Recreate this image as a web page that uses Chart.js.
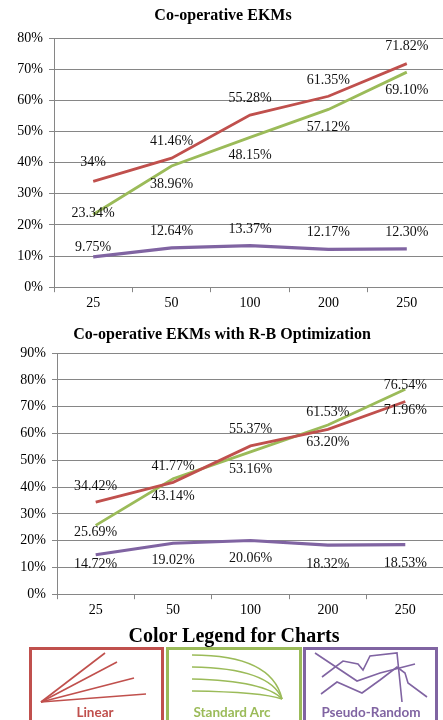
<!DOCTYPE html>
<html>
<head>
<meta charset="utf-8">
<script src="https://cdn.jsdelivr.net/npm/chart.js@4.4.1/dist/chart.umd.min.js"></script>
<style>
  html, body { margin: 0; padding: 0; background: #fff; overflow: hidden; width: 443px; height: 720px; }
  .wrap { position: absolute; left: 0; }
  #legend { position: absolute; left: 0; top: 620px; }
</style>
</head>
<body>
<div class="wrap" style="top:0"><canvas id="chartTop" width="447" height="318"></canvas></div>
<div class="wrap" style="top:318px"><canvas id="chartBottom" width="444" height="308"></canvas></div>
<svg id="legend" width="443" height="100" xmlns="http://www.w3.org/2000/svg">
  <text x="234" y="22" text-anchor="middle" font-family="Liberation Serif" font-weight="bold" font-size="20">Color Legend for Charts</text>
  <!-- Linear -->
  <rect x="30.5" y="28.5" width="132" height="80" fill="none" stroke="#C0504D" stroke-width="3"/>
  <g stroke="#C0504D" stroke-width="1.6" fill="none">
    <line x1="41" y1="82" x2="105" y2="33"/>
    <line x1="41" y1="82" x2="117" y2="42"/>
    <line x1="41" y1="82" x2="134" y2="58"/>
    <line x1="41" y1="82" x2="146" y2="74"/>
  </g>
  <text x="95" y="97" text-anchor="middle" font-family="Lato" font-weight="bold" font-size="13.5" fill="#C0504D">Linear</text>
  <!-- Standard Arc -->
  <rect x="167.5" y="28.5" width="133" height="80" fill="none" stroke="#9BBB59" stroke-width="3"/>
  <g stroke="#9BBB59" stroke-width="1.6" fill="none">
    <path d="M192 35 Q272 35 282 79"/>
    <path d="M192 47 Q270 48 282 79"/>
    <path d="M192 59 Q266 61 282 79"/>
    <path d="M192 71 Q262 72 282 79"/>
  </g>
  <text x="232" y="97" text-anchor="middle" font-family="Lato" font-weight="bold" font-size="13.5" fill="#9BBB59">Standard Arc</text>
  <!-- Pseudo-Random -->
  <rect x="304.5" y="28.5" width="132" height="80" fill="none" stroke="#8064A2" stroke-width="3"/>
  <g stroke="#8064A2" stroke-width="1.6" fill="none">
    <polyline points="315,33 357,61 380,53 415,44"/>
    <polyline points="322,57 343,41 358,44 363,50 370,36 397,33 402,82"/>
    <polyline points="321,74 337,62 362,73 380,60 397,47 405,53 408,63 427,77"/>
  </g>
  <text x="371" y="97" text-anchor="middle" font-family="Lato" font-weight="bold" font-size="13.5" fill="#8064A2">Pseudo-Random</text>
</svg>
<script>
// Key counts on the x axis (same for both charts)
const categories = ['25', '50', '100', '200', '250'];

// Co-operative EKMs (%)
const topLinear = [34, 41.46, 55.28, 61.35, 71.82];
const topArc = [23.34, 38.96, 48.15, 57.12, 69.10];
const topRandom = [9.75, 12.64, 13.37, 12.17, 12.30];

// Co-operative EKMs with R-B Optimization (%)
const botLinear = [34.42, 41.77, 55.37, 61.53, 71.96];
const botArc = [25.69, 43.14, 53.16, 63.20, 76.54];
const botRandom = [14.72, 19.02, 20.06, 18.32, 18.53];

// vertical shift (px) of each value label relative to its point
const topLabelShift = [[-19, -17, -17, -16, -17], [-1, 18, 18, 18, 18], [-10, -17, -16, -17, -17]];
const botLabelShift = [[-16, -16, -17, -17, 9], [7, 18, 17, 17, -4], [10, 17, 18, 19, 19]];

const RED = '#C0504D';
const GREEN = '#9BBB59';
const PURPLE = '#8064A2';
const GRID = '#868686';
const SERIF = "'Liberation Serif', 'Times New Roman', serif";

const fmtLabel = (v) => (Number.isInteger(v) ? `${v}%` : `${v.toFixed(2)}%`);

const valueLabels = {
  id: 'valueLabels',
  afterDatasetsDraw(chart, args, opts) {
    const { ctx } = chart;
    ctx.save();
    ctx.font = `14px ${SERIF}`;
    ctx.fillStyle = '#111';
    ctx.textAlign = 'center';
    ctx.textBaseline = 'middle';
    chart.data.datasets.forEach((ds, di) => {
      const meta = chart.getDatasetMeta(di);
      meta.data.forEach((pt, i) => {
        const dy = opts.shift[di][i] || 0;
        ctx.fillText(fmtLabel(ds.data[i]), pt.x, pt.y + dy);
      });
    });
    ctx.restore();
  },
};

function makeChart(id, title, series, yMax, axisWidth, shift, layoutPad, titlePad) {
  const colors = [RED, GREEN, PURPLE];
  return new Chart(document.getElementById(id), {
    type: 'line',
    data: {
      labels: categories,
      datasets: series.map((data, i) => ({
        data,
        borderColor: colors[i],
        borderWidth: i === 2 ? 3.2 : 2.8,
        pointRadius: 0,
        tension: 0,
        fill: false,
      })),
    },
    options: {
      responsive: false,
      animation: false,
      devicePixelRatio: 1,
      layout: { padding: layoutPad },
      plugins: {
        legend: { display: false },
        tooltip: { enabled: false },
        title: {
          display: true,
          text: title,
          color: '#000',
          font: { family: SERIF, size: 16, weight: 'bold' },
          padding: titlePad,
        },
        valueLabels: { shift },
      },
      scales: {
        x: {
          offset: true,
          grid: { offset: true, drawOnChartArea: false, color: GRID, tickLength: 5 },
          border: { color: GRID, width: 1 },
          ticks: { color: '#000', padding: 3, font: { family: SERIF, size: 14 } },
        },
        y: {
          min: 0,
          max: yMax,
          afterFit: (scale) => { scale.width = axisWidth; },
          grid: { color: GRID, tickLength: 5 },
          border: { color: GRID, width: 1 },
          ticks: {
            stepSize: 10,
            color: '#000',
            padding: 6,
            font: { family: SERIF, size: 14 },
            callback: (v) => `${v}%`,
          },
        },
      },
    },
    plugins: [valueLabels],
  });
}

makeChart('chartTop', 'Co-operative EKMs', [topLinear, topArc, topRandom], 80, 54, topLabelShift,
  { left: 0, right: 1, top: 0, bottom: 3 }, { top: 6, bottom: 13 });
makeChart('chartBottom', 'Co-operative EKMs with R-B Optimization', [botLinear, botArc, botRandom], 90, 57, botLabelShift,
  { left: 0, right: 0, top: 0, bottom: 4 }, { top: 7, bottom: 9 });
</script>
</body>
</html>
